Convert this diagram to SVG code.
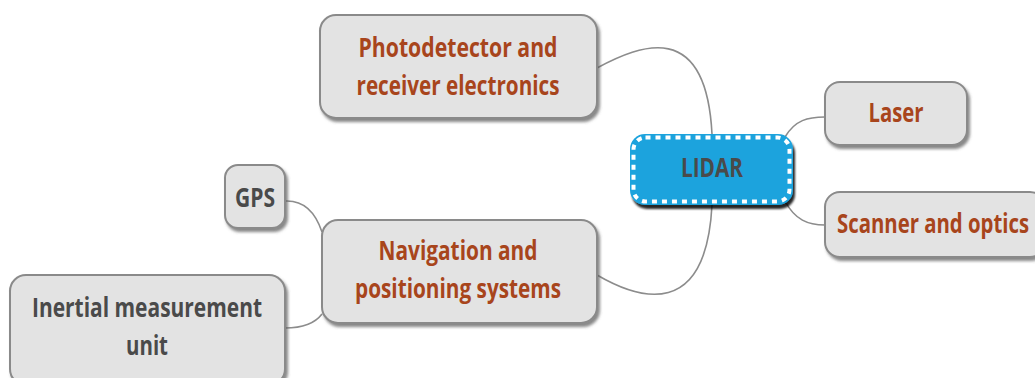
<svg xmlns="http://www.w3.org/2000/svg" width="1035" height="378" viewBox="0 0 1035 378">
<style>
.box{fill:#e3e3e3;stroke:#8a8a8a;stroke-width:2;filter:url(#sh)}
.t{font-family:"Open Sans","Noto Sans","DejaVu Sans",sans-serif;font-weight:700;font-size:26px;text-anchor:middle}
.br{fill:#a8451c}
.gr{fill:#4a4a4a}
.c{fill:none;stroke:#8c8c8c;stroke-width:1.6}
</style>
<defs>
<filter id="sh" x="-10%" y="-10%" width="130%" height="140%">
<feDropShadow dx="2" dy="3" stdDeviation="1.5" flood-color="#555" flood-opacity="0.7"/>
</filter>
<filter id="sh2" x="-10%" y="-10%" width="130%" height="140%">
<feDropShadow dx="2" dy="4" stdDeviation="1" flood-color="#000" flood-opacity="0.85"/>
</filter>
</defs>
<rect width="1035" height="378" fill="#fff"/>
<g id="connectors">
<path class="c" d="M597,68 C640,45 706,18 712,134"/>
<path class="c" d="M712,205 C706,320 640,300 597,275"/>
<path class="c" d="M785,137 C795,120 808,117 825,117"/>
<path class="c" d="M785,201 C795,220 808,225 825,225"/>
<path class="c" d="M285,201 C305,200 316,214 322,232"/>
<path class="c" d="M285,328 C305,328 316,322 322,314"/>
</g>
<g id="lidar">
<rect x="630" y="134" width="163" height="71" rx="15" fill="#1fa3dd" filter="url(#sh2)"/>
<rect x="633.5" y="137.5" width="156" height="64" rx="12" fill="none" stroke="#fff" stroke-width="4" stroke-dasharray="5 5"/>
<text class="t gr" x="712" y="177" textLength="62" lengthAdjust="spacingAndGlyphs">LIDAR</text>
</g>
<g id="photodetector">
<rect class="box" x="320" y="15" width="277" height="103" rx="16"/>
<text class="t br" x="458" y="57" textLength="199" lengthAdjust="spacingAndGlyphs">Photodetector and</text>
<text class="t br" x="458" y="95" textLength="203" lengthAdjust="spacingAndGlyphs">receiver electronics</text>
</g>
<g id="laser">
<rect class="box" x="825" y="82" width="142" height="63" rx="15"/>
<text class="t br" x="896" y="122" textLength="55" lengthAdjust="spacingAndGlyphs">Laser</text>
</g>
<g id="scanner">
<rect class="box" x="825" y="192" width="220" height="65" rx="15"/>
<text class="t br" x="933" y="233" textLength="192" lengthAdjust="spacingAndGlyphs">Scanner and optics</text>
</g>
<g id="navigation">
<rect class="box" x="322" y="220" width="275" height="103" rx="16"/>
<text class="t br" x="458" y="260" textLength="159" lengthAdjust="spacingAndGlyphs">Navigation and</text>
<text class="t br" x="458" y="298" textLength="206" lengthAdjust="spacingAndGlyphs">positioning systems</text>
</g>
<g id="gps">
<rect class="box" x="225" y="165" width="60" height="63" rx="13"/>
<text class="t gr" x="255" y="207" textLength="40" lengthAdjust="spacingAndGlyphs">GPS</text>
</g>
<g id="imu">
<rect class="box" x="10" y="275" width="275" height="110" rx="16"/>
<text class="t gr" x="147" y="317" textLength="230" lengthAdjust="spacingAndGlyphs">Inertial measurement</text>
<text class="t gr" x="147" y="355" textLength="42" lengthAdjust="spacingAndGlyphs">unit</text>
</g>
</svg>
